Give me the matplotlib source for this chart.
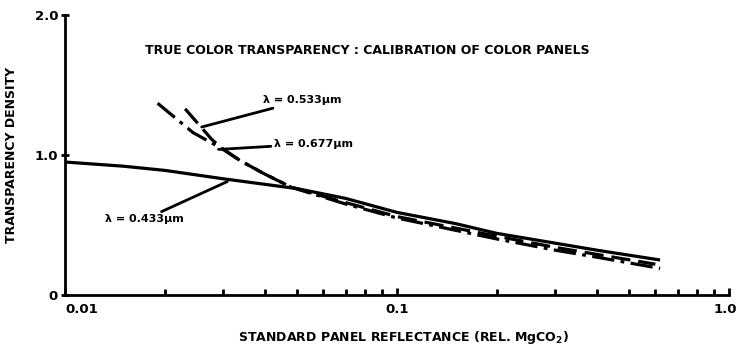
import matplotlib
matplotlib.use("Agg")
import matplotlib.pyplot as plt
from matplotlib.ticker import FixedLocator, NullFormatter
import matplotlib.transforms as mtransforms

plt.rcParams['font.family'] = ['Liberation Sans Narrow', 'DejaVu Sans']

# λ = 0.433 µm (solid)
x_433 = [0.01, 0.015, 0.02, 0.03, 0.05, 0.07, 0.1, 0.15, 0.2, 0.3, 0.4, 0.62]
y_433 = [0.95, 0.92, 0.89, 0.83, 0.76, 0.69, 0.59, 0.51, 0.44, 0.37, 0.32, 0.25]

# λ = 0.533 µm (dashed)
x_533 = [0.023, 0.0277, 0.030, 0.0337, 0.0395, 0.048, 0.07, 0.1, 0.2, 0.3, 0.4, 0.60]
y_533 = [1.33, 1.11, 1.04, 0.96, 0.87, 0.77, 0.66, 0.56, 0.42, 0.34, 0.29, 0.22]

# λ = 0.677 µm (dash-dot)
x_677 = [0.019, 0.0243, 0.030, 0.0337, 0.0395, 0.048, 0.07, 0.1, 0.2, 0.3, 0.4, 0.62]
y_677 = [1.37, 1.16, 1.04, 0.96, 0.87, 0.77, 0.65, 0.55, 0.40, 0.32, 0.27, 0.19]

x_ticks = [0.01, 0.1, 1.0]
x_ticklabels = ["0.01", "0.1", "1.0"]
y_ticks = [0, 1.0, 2.0]
y_ticklabels = ["0", "1.0", "2.0"]

title = "TRUE COLOR TRANSPARENCY : CALIBRATION OF COLOR PANELS"
xlabel = "STANDARD PANEL REFLECTANCE (REL. MgCO$_\\mathbf{2}$)"
ylabel = "TRANSPARENCY DENSITY"
lab_433 = "λ = 0.433μm"
lab_533 = "λ = 0.533μm"
lab_677 = "λ = 0.677μm"

fig = plt.figure(figsize=(7.39, 3.58), dpi=100)
ax = fig.add_axes([0.088, 0.176, 0.9865 - 0.088, 0.958 - 0.176])

lw = 2.3
ax.plot(x_433, y_433, color='black', lw=lw, solid_capstyle='butt')
ax.plot(x_533, y_533, color='black', lw=lw, linestyle=(0, (6, 2.5)))
ax.plot(x_677, y_677, color='black', lw=lw, linestyle=(0, (7, 2, 1.2, 2)))

ax.set_xscale('log')
ax.set_xlim(0.01, 1.0)
ax.set_ylim(0, 2.0)

for s in ['top', 'right']:
    ax.spines[s].set_visible(False)
for s in ['left', 'bottom']:
    ax.spines[s].set_linewidth(2.0)

ax.xaxis.set_major_locator(FixedLocator(x_ticks))
ax.set_xticklabels(x_ticklabels, fontsize=9.5, fontweight='bold')
ax.xaxis.set_minor_locator(FixedLocator([m * d for d in (0.01, 0.1) for m in range(2, 10)]))
ax.xaxis.set_minor_formatter(NullFormatter())
ax.tick_params(axis='x', which='major', direction='in', length=5, width=2, pad=6)
ax.tick_params(axis='x', which='minor', direction='in', length=4, width=2)
xl = ax.get_xticklabels()
xl[0].set_ha('left')
xl[2].set_ha('right')
xl[2].set_transform(xl[2].get_transform() + mtransforms.ScaledTranslation(6 / 72, 0, fig.dpi_scale_trans))

ax.set_yticks(y_ticks)
ax.set_yticklabels(y_ticklabels, fontsize=9.5, fontweight='bold')
ax.tick_params(axis='y', which='major', direction='inout', length=6, width=2, pad=2)

ax.set_title(title, fontsize=9, fontweight='bold', x=0.455, y=0.83)
ax.set_xlabel(xlabel, fontsize=9, fontweight='bold', labelpad=9, x=0.51)
ax.set_ylabel(ylabel, fontsize=9, fontweight='bold', labelpad=12)

arrow = dict(arrowstyle='-', color='black', lw=2.0, shrinkA=0, shrinkB=0)
ax.annotate(lab_533, xy=(0.0258, 1.20), xytext=(0.0395, 1.39),
            fontsize=8, fontweight='bold', ha='left', va='center', arrowprops=arrow)
ax.annotate(lab_677, xy=(0.0290, 1.04), xytext=(0.0425, 1.08),
            fontsize=8, fontweight='bold', ha='left', va='center', arrowprops=arrow)
ax.annotate(lab_433, xy=(0.0308, 0.81), xytext=(0.0228, 0.54),
            fontsize=8, fontweight='bold', ha='right', va='center', arrowprops=arrow)

fig.savefig("out.png", dpi=100)
